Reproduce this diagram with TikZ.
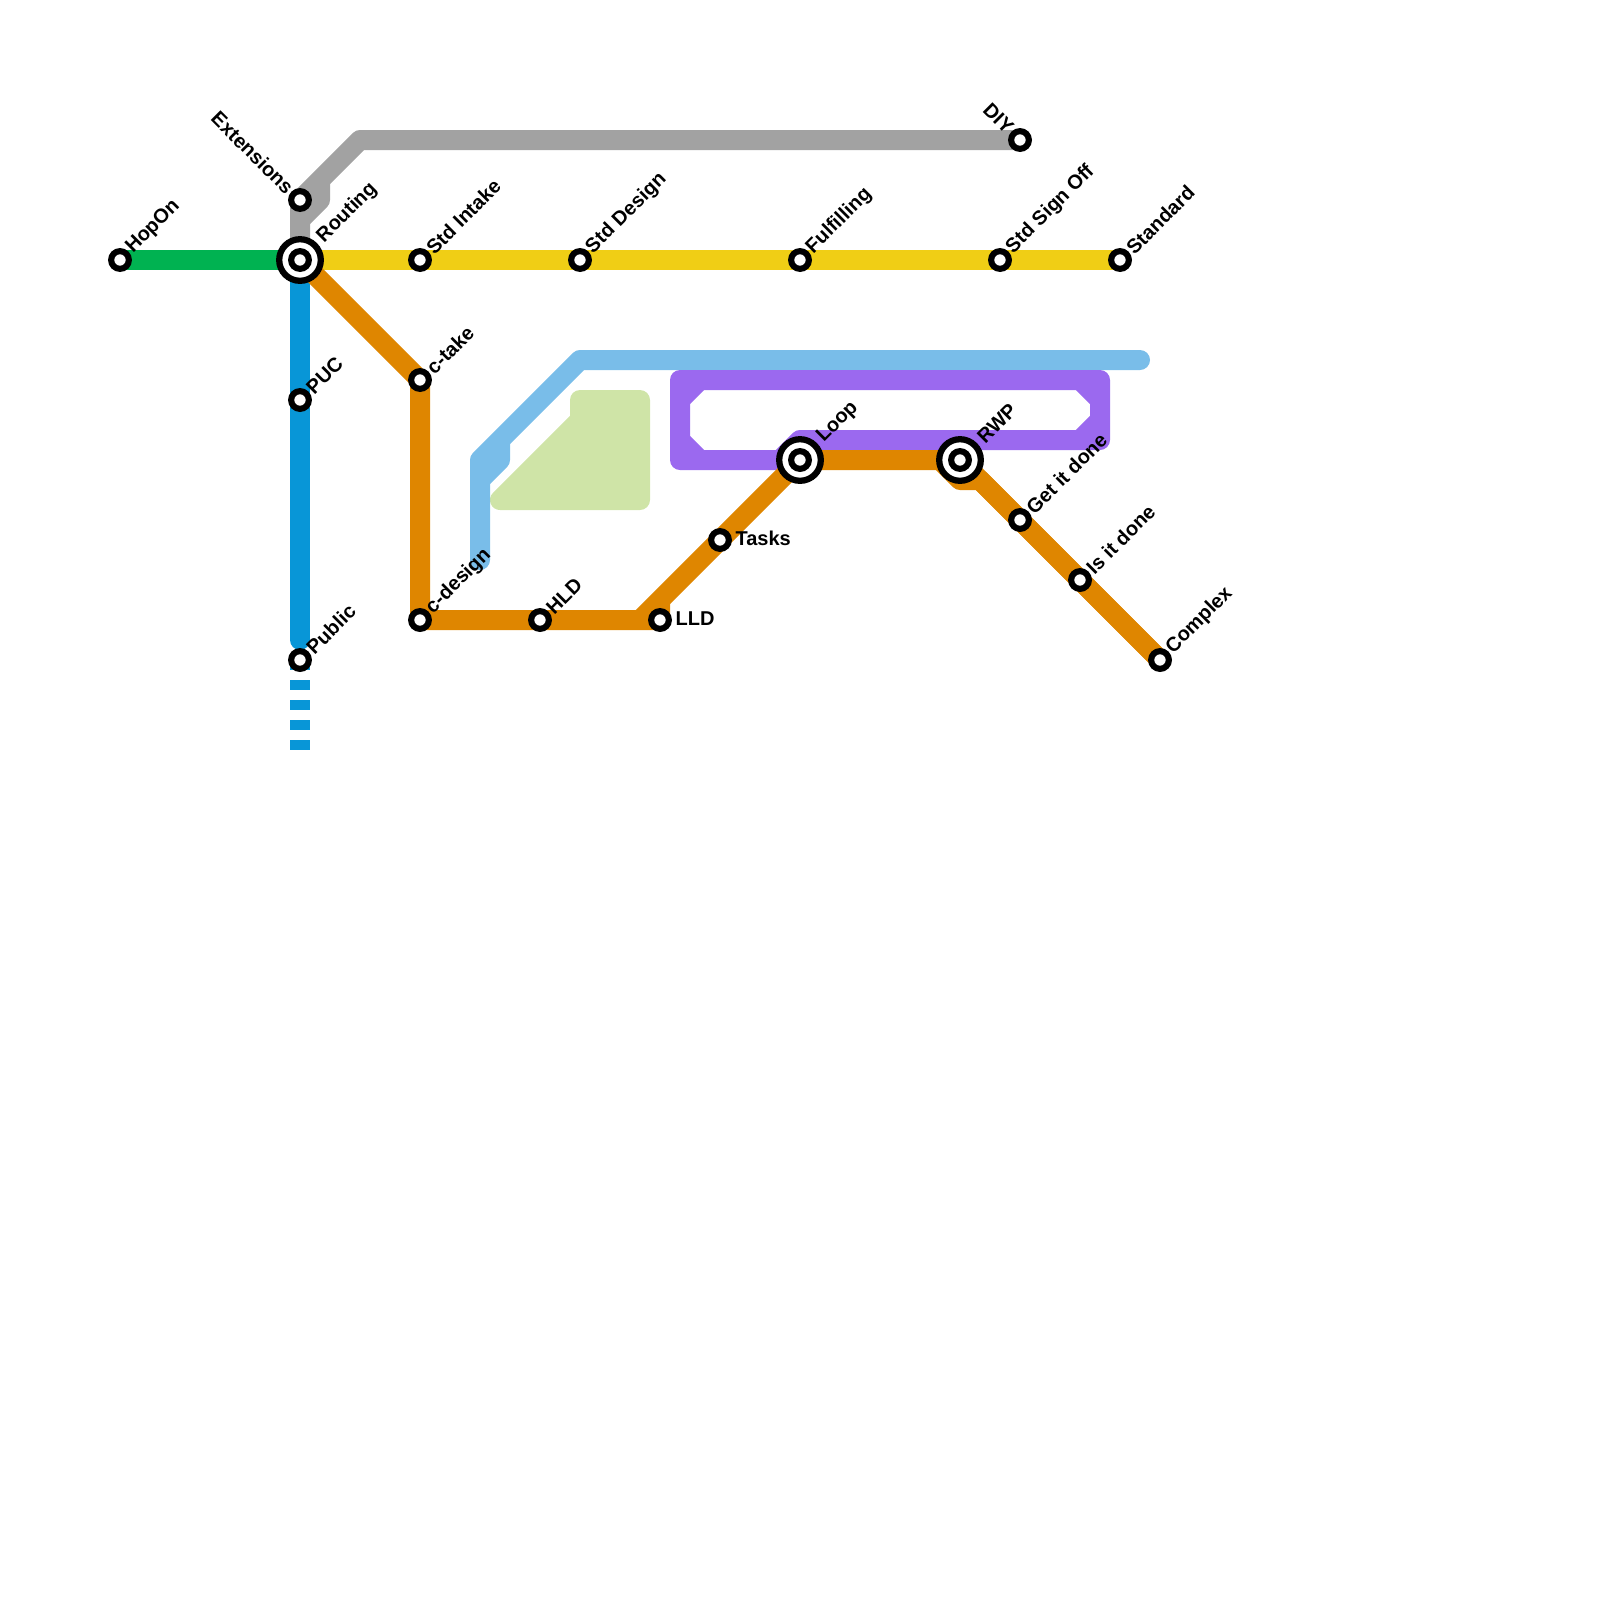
\documentclass[tikz,border=0pt]{standalone}
\usepackage{fontspec}
\setmainfont{Liberation Sans}
\usepackage{tikz}
\usetikzlibrary{backgrounds}
\definecolor{mgreen}{HTML}{00B251}
\definecolor{myellow}{HTML}{F0CE15}
\definecolor{mblue}{HTML}{0896D7}
\definecolor{morange}{HTML}{DF8600}
\definecolor{mgrey}{HTML}{A2A2A2}
\definecolor{msky}{HTML}{79BDE9}
\definecolor{mpurple}{HTML}{9B69EF}
\definecolor{mlime}{HTML}{CFE4A7}
\tikzstyle{station}=[circle, draw=black, fill=white, line width=4.6pt, minimum size=13.3pt, inner sep=0pt, outer sep=0pt]
\tikzstyle{hub}=[circle, draw=black, fill=white, line width=4.7pt, minimum size=31.2pt, inner sep=0pt, outer sep=0pt]
\tikzstyle{metro}=[line width=15pt, line join=round]
\tikzstyle{stnlabel}=[rotate=45, anchor=west, inner sep=0pt, inner xsep=10pt, font=\fontsize{15}{17}\selectfont\bfseries]
\tikzstyle{hublabel}=[stnlabel, inner xsep=21.5pt]
\tikzstyle{sidelabel}=[anchor=west, inner sep=0pt, inner xsep=11.5pt, yshift=1pt, font=\fontsize{15}{17}\selectfont\bfseries]

\begin{document}
\begin{tikzpicture}[x=0.75pt, y=-0.75pt]
    \useasboundingbox (0,0) rectangle (1600,1600);

    \node[station] (hopon) at (120,260) {};
    \node[hub] (routinghub) at (300,260) {};
    \node[station] (routing) at (300,260) {};
    \node[station] (extensions) at (300,200) {};
    \node[station] (diy) at (1020,140) {};
    \node[station] (stdintake) at (420,260) {};
    \node[station] (stddesign) at (580,260) {};
    \node[station] (fulfilling) at (800,260) {};
    \node[station] (stdsignoff) at (1000,260) {};
    \node[station] (standard) at (1120,260) {};
    \node[station] (puc) at (300,400) {};
    \node[station] (public) at (300,660) {};
    \node[station] (ctake) at (420,380) {};
    \node[station] (cdesign) at (420,620) {};
    \node[station] (hld) at (540,620) {};
    \node[station] (lld) at (660,620) {};
    \node[station] (tasks) at (720,540) {};
    \node[hub] (loophub) at (800,460) {};
    \node[station] (loop) at (800,460) {};
    \node[hub] (rwphub) at (960,460) {};
    \node[station] (rwp) at (960,460) {};
    \node[station] (getitdone) at (1020,520) {};
    \node[station] (isitdone) at (1080,580) {};
    \node[station] (complex) at (1160,660) {};

    \coordinate (publicend) at (300,640);
    \coordinate (tailend) at (300,750);
    \coordinate (skyend) at (1140,360);
    \coordinate (skyfoot) at (480,560);

    \node[stnlabel] (lhopon) at (hopon.center) {HopOn};
    \node[hublabel] (lrouting) at (routing.center) {Routing};
    \node[stnlabel] (lstdintake) at (stdintake.center) {Std Intake};
    \node[stnlabel] (lstddesign) at (stddesign.center) {Std Design};
    \node[stnlabel] (lfulfilling) at (fulfilling.center) {Fulfilling};
    \node[stnlabel] (lstdsignoff) at (stdsignoff.center) {Std Sign Off};
    \node[stnlabel] (lstandard) at (standard.center) {Standard};
    \node[stnlabel] (lpuc) at (puc.center) {PUC};
    \node[stnlabel] (lpublic) at (public.center) {Public};
    \node[stnlabel] (lctake) at (ctake.center) {c-take};
    \node[stnlabel] (lcdesign) at (cdesign.center) {c-design};
    \node[stnlabel] (lhld) at (hld.center) {HLD};
    \node[hublabel] (lloop) at (loop.center) {Loop};
    \node[hublabel] (lrwp) at (rwp.center) {RWP};
    \node[stnlabel] (lgetitdone) at (getitdone.center) {Get it done};
    \node[stnlabel] (lisitdone) at (isitdone.center) {Is it done};
    \node[stnlabel] (lcomplex) at (complex.center) {Complex};
    \node[stnlabel, rotate=-90, anchor=east] (lextensions) at (extensions.center) {Extensions};
    \node[stnlabel, rotate=-90, anchor=east] (ldiy) at (diy.center) {DIY};
    \node[sidelabel] (ltasks) at (tasks.center) {Tasks};
    \node[sidelabel] (llld) at (lld.center) {LLD};

    \begin{scope}[on background layer]
        \fill[mlime, draw=mlime, metro] (580,400) -- (640,400) -- (640,500) -- (500,500) -- (580,420) -- cycle;
        \draw[metro, mgrey] (diy.center) -- (360,140) -- (300,200) -- (routing.center);
        \draw[metro, mgrey] (320,180) -- (320,200) -- (300,220);
        \draw[metro, msky, line cap=round] (skyend) -- (580,360) -- (480,460) -- (skyfoot);
        \draw[metro, msky] (500,440) -- (500,460) -- (480,480);
        \draw[metro, mpurple] (loop.center) -- (680,460) -- (680,380) -- (1100,380) -- (1100,440) -- (800,440) -- (780,460);
        \draw[metro, mpurple] (700,380) -- (680,400);
        \draw[metro, mpurple] (700,460) -- (680,440);
        \draw[metro, mpurple] (1080,380) -- (1100,400);
        \draw[metro, mpurple] (1080,440) -- (1100,420);
        \draw[metro, mgreen] (hopon.center) -- (routing.center);
        \draw[metro, myellow] (routing.center) -- (standard.center);
        \draw[metro, mblue, line cap=round] (routing.center) -- (publicend);
        \draw[metro, mblue, dash pattern=on 7.5pt off 7.5pt] (public.center) -- (tailend);
        \draw[metro, morange] (routing.center) -- (ctake.center) -- (cdesign.center) -- (lld.center) -- (660,600);
        \draw[metro, morange] (640,620) -- (tasks.center) -- (loop.center) -- (rwp.center);
        \draw[metro, morange] (940,460) -- (960,480) -- (980,480) -- (complex.center);
        \draw[metro, morange] (rwp.center) -- (complex.center);
    \end{scope}
\end{tikzpicture}
\end{document}
